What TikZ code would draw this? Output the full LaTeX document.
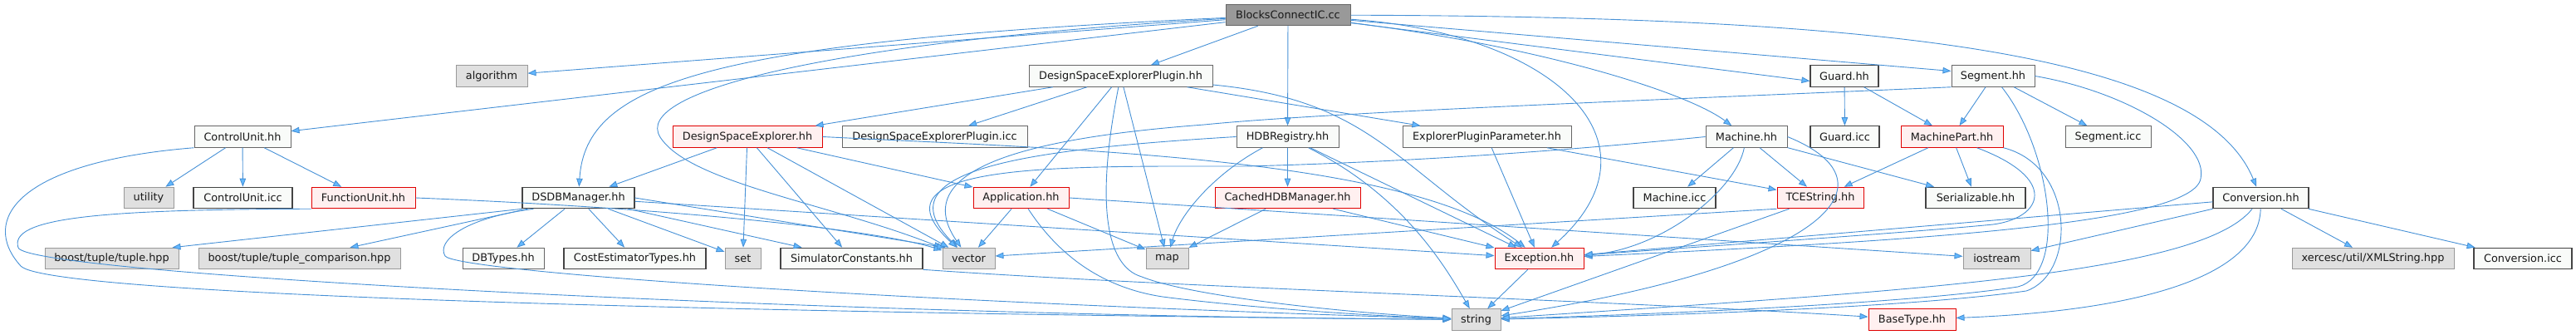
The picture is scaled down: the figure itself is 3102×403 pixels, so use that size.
\documentclass[tikz,border=0pt]{standalone}
\usepackage{fontspec}
\setmainfont{DejaVu Sans}
\usetikzlibrary{arrows.meta}
\definecolor{ec}{HTML}{4791D6}
\definecolor{tc}{HTML}{63B8FF}
\definecolor{nfill}{HTML}{F9FBF9}
\definecolor{nbord}{HTML}{666666}
\definecolor{dbord}{HTML}{444444}
\definecolor{sfill}{HTML}{E0E0E0}
\definecolor{sbord}{HTML}{999999}
\definecolor{rfill}{HTML}{FFF0F0}
\definecolor{rbord}{HTML}{E00000}
\definecolor{rootc}{HTML}{999999}
\begin{document}
\begin{tikzpicture}[x=1pt,y=-1pt,
  base/.style={inner sep=0pt, minimum height=25.5pt, font=\fontsize{12.85}{15}\selectfont, line width=1pt, text=black!90},
  nrm/.style={base, draw=nbord, fill=nfill},
  drk/.style={base, draw=dbord, fill=nfill, line width=1.1pt},
  sys/.style={base, draw=sbord, fill=sfill},
  trunc/.style={base, draw=rbord, fill=rfill},
  rootn/.style={base, draw=black!60, fill=rootc},
  edg/.style={draw=ec, line width=0.9pt, -{Triangle[length=10pt,width=7.5pt,fill=tc]}}]
\useasboundingbox (0,0) rectangle (3102,403);
% row 0
\node[rootn, minimum width=150pt] (bc) at (1551,18) {BlocksConnectIC.cc};
% row 1
\node[sys, minimum width=86pt] (algorithm) at (592,91.5) {algorithm};
\node[nrm, minimum width=221pt] (dsep) at (1349.5,91.5) {DesignSpaceExplorerPlugin.hh};
\node[drk, minimum width=82pt] (guard) at (2221,91.5) {Guard.hh};
\node[nrm, minimum width=100pt] (segment) at (2400,91.5) {Segment.hh};
% row 2
\node[nrm, minimum width=116pt] (cu) at (292,164.5) {ControlUnit.hh};
\node[trunc, minimum width=180pt] (dse) at (900,164.5) {DesignSpaceExplorer.hh};
\node[nrm, minimum width=223pt] (dsepicc) at (1125.5,164.5) {DesignSpaceExplorerPlugin.icc};
\node[nrm, minimum width=123pt] (hdbr) at (1550.5,164.5) {HDBRegistry.hh};
\node[nrm, minimum width=203pt] (epp) at (1790.5,164.5) {ExplorerPluginParameter.hh};
\node[nrm, minimum width=98pt] (machine) at (2103,164.5) {Machine.hh};
\node[drk, minimum width=83pt] (guardicc) at (2221.5,164.5) {Guard.icc};
\node[trunc, minimum width=123pt] (mpart) at (2350.5,164.5) {MachinePart.hh};
\node[nrm, minimum width=103pt] (segicc) at (2538.5,164.5) {Segment.icc};
% row 3
\node[sys, minimum width=60pt] (utility) at (179,238) {utility};
\node[drk, minimum width=119pt] (cuicc) at (292.5,238) {ControlUnit.icc};
\node[trunc, minimum width=125pt] (fu) at (437.5,238) {FunctionUnit.hh};
\node[drk, minimum width=135pt] (dsdb) at (696.5,238) {DSDBManager.hh};
\node[trunc, minimum width=115pt] (app) at (1229.5,238) {Application.hh};
\node[trunc, minimum width=175pt] (chm) at (1550.5,238) {CachedHDBManager.hh};
\node[drk, minimum width=99pt] (machicc) at (2016.5,238) {Machine.icc};
\node[trunc, minimum width=104pt] (tcestr) at (2192,238) {TCEString.hh};
\node[drk, minimum width=120pt] (serial) at (2379,238) {Serializable.hh};
\node[drk, minimum width=115pt] (conv) at (2722.5,238) {Conversion.hh};
% row 4
\node[sys, minimum width=161pt] (tuple) at (134.5,311) {boost/tuple/tuple.hpp};
\node[sys, minimum width=243pt] (tuplecmp) at (360.5,311) {boost/tuple/tuple\_comparison.hpp};
\node[nrm, minimum width=98pt] (dbtypes) at (606,311) {DBTypes.hh};
\node[drk, minimum width=171pt] (cet) at (764.5,311) {CostEstimatorTypes.hh};
\node[sys, minimum width=43pt] (set) at (894.5,311) {set};
\node[drk, minimum width=171pt] (simc) at (1025.5,311) {SimulatorConstants.hh};
\node[sys, minimum width=63pt] (vector) at (1166.5,311) {vector};
\node[sys, minimum width=51pt] (map) at (1405.5,311) {map};
\node[trunc, minimum width=107pt] (exc) at (1853.5,311) {Exception.hh};
\node[sys, minimum width=81pt] (iostream) at (2404.5,311) {iostream};
\node[sys, minimum width=195pt] (xerces) at (2857.5,311) {xercesc/util/XMLString.hpp};
\node[drk, minimum width=118pt] (convicc) at (3038,311) {Conversion.icc};
% row 5
\node[sys, minimum width=59pt] (string) at (1777.5,384.5) {string};
\node[trunc, minimum width=105pt] (basetype) at (2302.5,384.5) {BaseType.hh};
% helper coordinates
\coordinate (bcv1) at (795,165);
\coordinate (cus1) at (25,320);
\coordinate (fus1) at (22,298);
\coordinate (dss1) at (536,308);
\coordinate (dss2) at (1375,333);
\coordinate (aps1) at (1400,357);
\coordinate (mv1) at (1500,200);
\coordinate (sv1) at (1450,150);
\coordinate (sge1) at (2650,215);
\coordinate (sgs1) at (2430,345);
\coordinate (mpe1) at (2400,270);
\coordinate (mps1) at (2440,350);
% BlocksConnectIC.cc
\draw[edg] (bc) -- (algorithm);
\draw[edg] (bc) -- (cu);
\draw[edg] (bc) .. controls (850,50) and (705,100) .. (dsdb);
\draw[edg] (bc) .. controls (1000,50) and (760,110) .. (bcv1) .. controls (830,220) and (1000,245) .. (vector);
\draw[edg] (bc) -- (dsep);
\draw[edg] (bc) -- (hdbr);
\draw[edg] (bc) .. controls (1870,40) and (2010,170) .. (exc);
\draw[edg] (bc) .. controls (1850,55) and (2030,110) .. (machine);
\draw[edg] (bc) -- ([yshift=-6pt]guard.west);
\draw[edg] (bc) -- ([yshift=6pt]segment.west);
\draw[edg] (bc) .. controls (2250,20) and (2650,60) .. (conv);
% ControlUnit.hh
\draw[edg] (cu) -- (utility);
\draw[edg] (cu) -- (cuicc);
\draw[edg] (cu) -- (fu);
\draw[edg] (cu.south west) .. controls (20,195) and (-25,265) .. (cus1) .. controls (60,358) and (1000,378) .. (string);
% FunctionUnit.hh
\draw[edg] (fu.south west) .. controls (120,252) and (10,262) .. (fus1) .. controls (33,330) and (1000,380) .. (string);
\draw[edg] (fu.east) .. controls (800,250) and (1050,275) .. (vector);
% DSDBManager.hh
\draw[edg] (dsdb.south west) -- ([xshift=-8pt]tuple.north east);
\draw[edg] (dsdb) -- (tuplecmp);
\draw[edg] (dsdb) -- (dbtypes);
\draw[edg] (dsdb) -- (cet);
\draw[edg] (dsdb) -- (set);
\draw[edg] (dsdb) -- (simc);
\draw[edg] (dsdb.east) -- ([xshift=4pt]vector.north west);
\draw[edg] (dsdb) -- (exc);
\draw[edg] ([xshift=14pt]dsdb.south west) .. controls (560,262) and (525,290) .. (dss1) .. controls (548,325) and (1000,360) .. (string);
% DesignSpaceExplorer.hh
\draw[edg] (dse) -- (dsdb);
\draw[edg] (dse) -- (set);
\draw[edg] (dse) -- (simc);
\draw[edg] (dse) -- (vector);
\draw[edg] (dse) -- (app);
\draw[edg] (dse.east) .. controls (1300,180) and (1700,190) .. (exc);
% DesignSpaceExplorerPlugin.hh
\draw[edg] (dsep) -- (dse);
\draw[edg] (dsep) -- (dsepicc);
\draw[edg] (dsep) -- (app);
\draw[edg] (dsep) -- (map);
\draw[edg] (dsep) -- (epp);
\draw[edg] (dsep) .. controls (1650,120) and (1680,200) .. (exc);
\draw[edg] (dsep) .. controls (1320,240) and (1330,320) .. (dss2) .. controls (1430,355) and (1600,375) .. (string);
% HDBRegistry.hh
\draw[edg] (hdbr) -- (chm);
\draw[edg] ([xshift=-30pt]hdbr.south) .. controls (1460,210) and (1420,260) .. (map);
\draw[edg] ([xshift=25pt]hdbr.south) .. controls (1690,235) and (1740,320) .. (string);
\draw[edg] (hdbr) -- (exc);
\draw[edg] (hdbr.west) .. controls (1230,180) and (1060,205) .. (vector);
% CachedHDBManager.hh
\draw[edg] (chm) -- (map);
\draw[edg] (chm) -- (exc);
% Application.hh
\draw[edg] (app) -- (vector);
\draw[edg] (app) -- (map);
\draw[edg] (app.east) -- (iostream);
\draw[edg] (app) .. controls (1270,300) and (1320,345) .. (aps1) .. controls (1500,370) and (1650,380) .. (string);
% ExplorerPluginParameter.hh
\draw[edg] (epp) -- (exc);
\draw[edg] (epp) -- (tcestr);
% Machine.hh
\draw[edg] (machine) -- (machicc);
\draw[edg] (machine) -- (tcestr);
\draw[edg] (machine) -- (serial);
\draw[edg] (machine.west) .. controls (1900,180) and (1700,195) .. (mv1) .. controls (1280,200) and (1040,195) .. (vector);
\draw[edg] (machine) .. controls (2090,230) and (2000,300) .. (exc);
\draw[edg] (machine.east) .. controls (2290,220) and (2200,320) .. (string);
% Guard.hh
\draw[edg] (guard) -- (guardicc);
\draw[edg] (guard) -- (mpart);
% Segment.hh
\draw[edg] (segment) -- (mpart);
\draw[edg] (segment) -- (segicc);
\draw[edg] (segment.south west) .. controls (2000,120) and (1600,135) .. (sv1) .. controls (1250,165) and (1090,200) .. (vector);
\draw[edg] (segment) .. controls (2470,180) and (2490,330) .. (sgs1) .. controls (2300,365) and (2000,378) .. (string);
\draw[edg] (segment.east) .. controls (2560,110) and (2660,170) .. (sge1) .. controls (2640,270) and (2300,290) .. (exc);
% MachinePart.hh
\draw[edg] (mpart) -- (tcestr);
\draw[edg] (mpart) -- (serial);
\draw[edg] ([xshift=30pt]mpart.south) .. controls (2480,215) and (2460,262) .. (mpe1) .. controls (2300,280) and (2000,300) .. (exc);
\draw[edg] (mpart.south east) .. controls (2500,200) and (2500,330) .. (mps1) .. controls (2300,370) and (2000,380) .. (string);
% TCEString.hh
\draw[edg] (tcestr) -- (string);
\draw[edg] (tcestr.south west) -- ([yshift=3pt]vector.east);
% Conversion.hh
\draw[edg] (conv) -- (exc);
\draw[edg] (conv) -- (iostream);
\draw[edg] (conv) -- (xerces);
\draw[edg] (conv) -- (convicc);
\draw[edg] (conv) .. controls (2650,330) and (2300,350) .. (string);
\draw[edg] (conv) .. controls (2720,340) and (2550,375) .. (basetype);
% SimulatorConstants.hh
\draw[edg] (simc.south east) .. controls (1400,345) and (1950,362) .. (basetype);
% Exception.hh
\draw[edg] (exc) -- (string);
\end{tikzpicture}
\end{document}
